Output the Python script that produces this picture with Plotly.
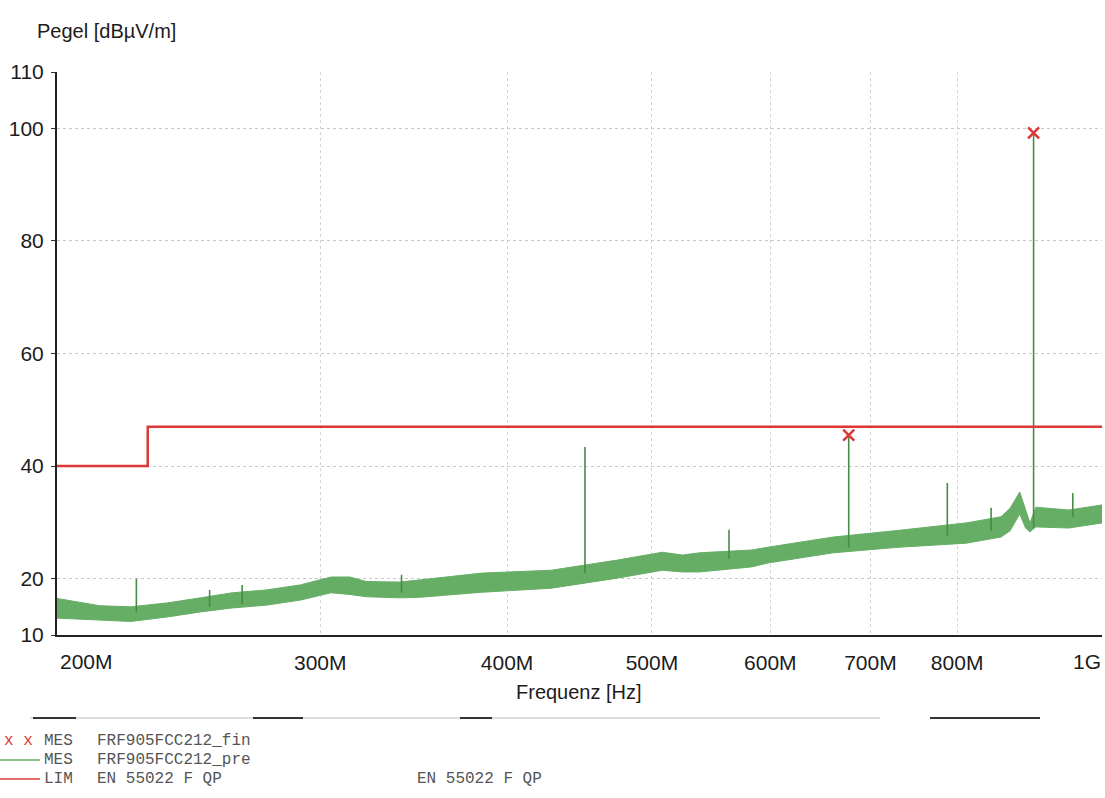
import plotly.graph_objects as go
import math

# ---------------- data ----------------
band_freq_mhz = [200, 213.6, 224, 237, 249.5, 262, 276, 291, 305, 314, 322, 339, 350,
                 385, 428, 474, 508, 524, 538, 583, 598, 661, 732, 811, 856, 868,
                 881, 889, 895, 903, 950, 1000]
band_upper_db = [16.5, 15.2, 15.0, 15.7, 16.6, 17.5, 18.0, 18.9, 20.3, 20.3, 19.5, 19.4, 19.8,
                 21.0, 21.5, 23.3, 24.7, 24.2, 24.6, 25.1, 25.6, 27.4, 28.6, 29.9, 31.0, 32.5,
                 35.4, 32.0, 29.9, 32.7, 32.2, 33.1]
band_lower_db = [13.0, 12.7, 12.4, 13.2, 14.1, 14.8, 15.3, 16.2, 17.5, 17.2, 16.8, 16.6, 16.7,
                 17.6, 18.3, 20.1, 21.5, 21.2, 21.2, 22.1, 22.8, 24.6, 25.6, 26.3, 27.4, 28.5,
                 31.5, 29.0, 28.3, 29.2, 29.0, 29.9]

spike_freq_mhz = [226, 253, 266, 340, 451, 563, 677, 788, 843, 900, 956]
spike_base_db = [14.0, 15.0, 15.5, 17.5, 21.0, 23.5, 25.5, 27.5, 28.5, 29.0, 31.0]
spike_top_db = [20.0, 18.0, 18.9, 20.7, 43.4, 28.7, 45.3, 37.0, 32.6, 99.0, 35.2]

final_freq_mhz = [677, 900]
final_level_db = [45.5, 99.2]

limit_freq_mhz = [200, 230, 1000]
limit_level_db = [40, 47, 47]

x_tick_vals = [200, 300, 400, 500, 600, 700, 800, 1000]
x_tick_text = ["200M", "300M", "400M", "500M", "600M", "700M", "800M", "1G"]
y_tick_vals = [10, 20, 40, 60, 80, 100, 110]
y_tick_text = ["10", "20", "40", "60", "80", "100", "110"]

legend_rows = [
    ("MES", "FRF905FCC212_fin", ""),
    ("MES", "FRF905FCC212_pre", ""),
    ("LIM", "EN 55022 F QP", "EN 55022 F QP"),
]

# ---------------- styling ----------------
GREEN = "rgb(102,174,102)"
GREEN_DARK = "rgb(70,140,70)"
RED = "rgb(222,55,55)"
TXT = "#1c1c1c"
SANS = "Liberation Sans, Arial, sans-serif"
MONO = "Liberation Mono, Courier New, monospace"

W, H = 1105, 798
ML, MR, MT, MB = 57, 3, 72, 163
PW, PH = W - ML - MR, H - MT - MB


def px(x):
    return (x - ML) / PW


def py(y):
    return (H - MB - y) / PH


fig = go.Figure()

# green pre-scan band
fig.add_trace(go.Scatter(x=band_freq_mhz, y=band_upper_db, mode="lines",
                         line=dict(color=GREEN, width=1), showlegend=False, hoverinfo="skip"))
fig.add_trace(go.Scatter(x=band_freq_mhz, y=band_lower_db, mode="lines", fill="tonexty",
                         fillcolor=GREEN, line=dict(color=GREEN, width=1),
                         showlegend=False, hoverinfo="skip"))

# spikes
sx, sy = [], []
for f, b, t in zip(spike_freq_mhz, spike_base_db, spike_top_db):
    sx += [f, f, None]
    sy += [b, t, None]
fig.add_trace(go.Scatter(x=sx, y=sy, mode="lines", line=dict(color=GREEN_DARK, width=1.6),
                         showlegend=False, hoverinfo="skip"))

# limit line
fig.add_trace(go.Scatter(x=limit_freq_mhz, y=limit_level_db, mode="lines", line_shape="hv",
                         line=dict(color=RED, width=2.5), showlegend=False))

# final measurement markers
fig.add_trace(go.Scatter(x=final_freq_mhz, y=final_level_db, mode="markers",
                         marker=dict(symbol="x-thin-open", size=11,
                                     line=dict(color=RED, width=2.5), color=RED),
                         showlegend=False))

fig.update_layout(
    width=W, height=H,
    margin=dict(l=ML, r=MR, t=MT, b=MB),
    paper_bgcolor="white", plot_bgcolor="white",
    font=dict(family=SANS, color=TXT),
    showlegend=False,
)

fig.update_xaxes(
    type="log", range=[math.log10(200), math.log10(1000)],
    tickvals=x_tick_vals,
    ticktext=["" if t in ("200M", "1G") else t for t in x_tick_text],
    tickfont=dict(size=21, family=SANS, color=TXT),
    ticks="", ticklabelstandoff=8,
    showgrid=True, gridcolor="#d2d2d2", griddash="dot", gridwidth=1,
    showline=True, linecolor="#222", linewidth=2, mirror=False, zeroline=False,
)
fig.update_yaxes(
    range=[10, 110], tickvals=y_tick_vals, ticktext=y_tick_text,
    tickfont=dict(size=21, family=SANS, color=TXT),
    ticks="outside", ticklen=4, tickcolor="#333", ticklabelstandoff=3,
    showgrid=True, gridcolor="#c8c8c8", griddash="dot", gridwidth=1,
    showline=True, linecolor="#222", linewidth=2, mirror=False, zeroline=False,
)

ann = []
# edge tick labels (shifted inwards like in the original)
for val, txt, shift in ((200, x_tick_text[0], 29), (1000, x_tick_text[-1], -15)):
    ann.append(dict(x=math.log10(val), xref="x", y=0, yref="paper", text=txt,
                    showarrow=False, xanchor="center", yanchor="middle",
                    xshift=shift, yshift=-26, font=dict(size=21, family=SANS, color=TXT)))

# axis titles
ann.append(dict(x=px(35), y=py(31), xref="paper", yref="paper", text="Pegel [dBµV/m]",
                showarrow=False, xanchor="left", yanchor="middle",
                font=dict(size=20, family=SANS, color=TXT)))
ann.append(dict(x=px(579), y=py(692), xref="paper", yref="paper", text="Frequenz [Hz]",
                showarrow=False, xanchor="center", yanchor="middle",
                font=dict(size=20, family=SANS, color=TXT)))

# legend block
row_y = [741, 760, 779]
for (kind, name, extra), yy in zip(legend_rows, row_y):
    ann.append(dict(x=px(42), y=py(yy), xref="paper", yref="paper", text=kind,
                    showarrow=False, xanchor="left", yanchor="middle",
                    font=dict(size=16, family=MONO, color="#555")))
    ann.append(dict(x=px(95), y=py(yy), xref="paper", yref="paper", text=name,
                    showarrow=False, xanchor="left", yanchor="middle",
                    font=dict(size=16, family=MONO, color="#555")))
    if extra:
        ann.append(dict(x=px(415), y=py(yy), xref="paper", yref="paper", text=extra,
                        showarrow=False, xanchor="left", yanchor="middle",
                        font=dict(size=16, family=MONO, color="#555")))
ann.append(dict(x=px(2), y=py(741), xref="paper", yref="paper", text="x x",
                showarrow=False, xanchor="left", yanchor="middle",
                font=dict(size=16, family=MONO, color=RED)))
fig.update_layout(annotations=ann)

shapes = [
    dict(type="line", xref="paper", yref="paper", x0=px(0), x1=px(40), y0=py(760), y1=py(760),
         line=dict(color=GREEN, width=1.5)),
    dict(type="line", xref="paper", yref="paper", x0=px(0), x1=px(40), y0=py(779), y1=py(779),
         line=dict(color=RED, width=1.5)),
    # separator line (scan)
    dict(type="line", xref="paper", yref="paper", x0=px(30), x1=px(880), y0=py(718), y1=py(718),
         line=dict(color="#bbbbbb", width=1)),
]
for a, b in ((33, 76), (253, 303), (460, 492), (930, 1040)):
    shapes.append(dict(type="line", xref="paper", yref="paper", x0=px(a), x1=px(b),
                       y0=py(718), y1=py(718), line=dict(color="#333", width=2)))
fig.update_layout(shapes=shapes)

fig.write_html("out.html")
